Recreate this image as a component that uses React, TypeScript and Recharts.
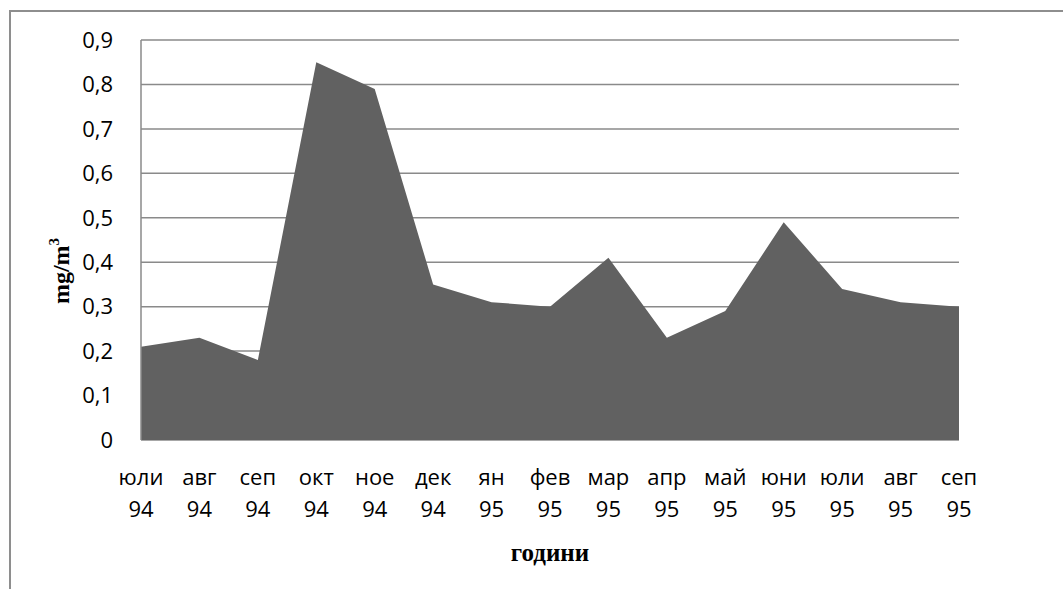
import { AreaChart, Area, CartesianGrid, XAxis, YAxis } from "recharts";

const months = ["юли", "авг", "сеп", "окт", "ное", "дек", "ян", "фев", "мар", "апр", "май", "юни", "юли", "авг", "сеп"];
const years = ["94", "94", "94", "94", "94", "94", "95", "95", "95", "95", "95", "95", "95", "95", "95"];
const values = [0.21, 0.23, 0.18, 0.85, 0.79, 0.35, 0.31, 0.3, 0.41, 0.23, 0.29, 0.49, 0.34, 0.31, 0.3];
const yTicks = [0, 0.1, 0.2, 0.3, 0.4, 0.5, 0.6, 0.7, 0.8, 0.9];

const data = values.map((v, i) => ({ key: i, month: months[i], year: years[i], value: v }));

const tickFont = "'Open Sans', 'Noto Sans', sans-serif";
const titleFont = "'Liberation Serif', 'DejaVu Serif', serif";

function MonthTick(props: any) {
  const { x, y, payload } = props;
  const d = data[payload.value];
  return (
    <g>
      <text x={x} y={y} textAnchor="middle" fontFamily={tickFont} fontSize={22} fill="#000">
        <tspan x={x} dy={37}>{d.month}</tspan>
        <tspan x={x} dy={32}>{d.year}</tspan>
      </text>
    </g>
  );
}

function YTitle() {
  const cx = 69;
  const cy = 271;
  return (
    <text
      x={cx}
      y={cy}
      transform={`rotate(-90 ${cx} ${cy})`}
      textAnchor="middle"
      fontFamily={titleFont}
      fontWeight="bold"
      fontSize={24}
      fill="#000"
    >
      mg/m<tspan fontSize={15} dy={-10}>3</tspan>
    </text>
  );
}

export default function App() {
  return (
    <div style={{ position: "absolute", left: 0, top: 0, width: 1063, height: 589, overflow: "hidden", background: "#fff" }}>
      <div
        style={{
          position: "absolute",
          left: 9,
          top: 10,
          width: 1100,
          height: 700,
          border: "2px solid #8e8e8e",
          boxSizing: "border-box",
        }}
      />
      <div style={{ position: "absolute", left: 0, top: 0 }}>
        <AreaChart width={1063} height={589} data={data} margin={{ top: 40, right: 104, bottom: 0, left: 0 }}>
          <CartesianGrid horizontal={true} vertical={false} stroke="#8a8a8a" strokeWidth={1.5} />
          <XAxis
            dataKey="key"
            type="category"
            interval={0}
            height={149}
            axisLine={false}
            tickLine={false}
            tick={<MonthTick />}
            label={{
              value: "години",
              position: "insideBottom",
              offset: 28,
              fontFamily: titleFont,
              fontWeight: "bold",
              fontSize: 25,
              fill: "#000",
            }}
          />
          <YAxis
            width={141}
            domain={[0, 0.9]}
            ticks={yTicks}
            interval={0}
            axisLine={{ stroke: "#8a8a8a", strokeWidth: 1.5 }}
            tickLine={false}
            tickSize={0}
            tickMargin={28}
            tickFormatter={(v: number) => String(v).replace(".", ",")}
            tick={{ fontFamily: tickFont, fontSize: 22, fill: "#000" }}
            label={<YTitle />}
          />
          <Area
            type="linear"
            dataKey="value"
            stroke="none"
            fill="#616161"
            fillOpacity={1}
            isAnimationActive={false}
          />
        </AreaChart>
      </div>
    </div>
  );
}
